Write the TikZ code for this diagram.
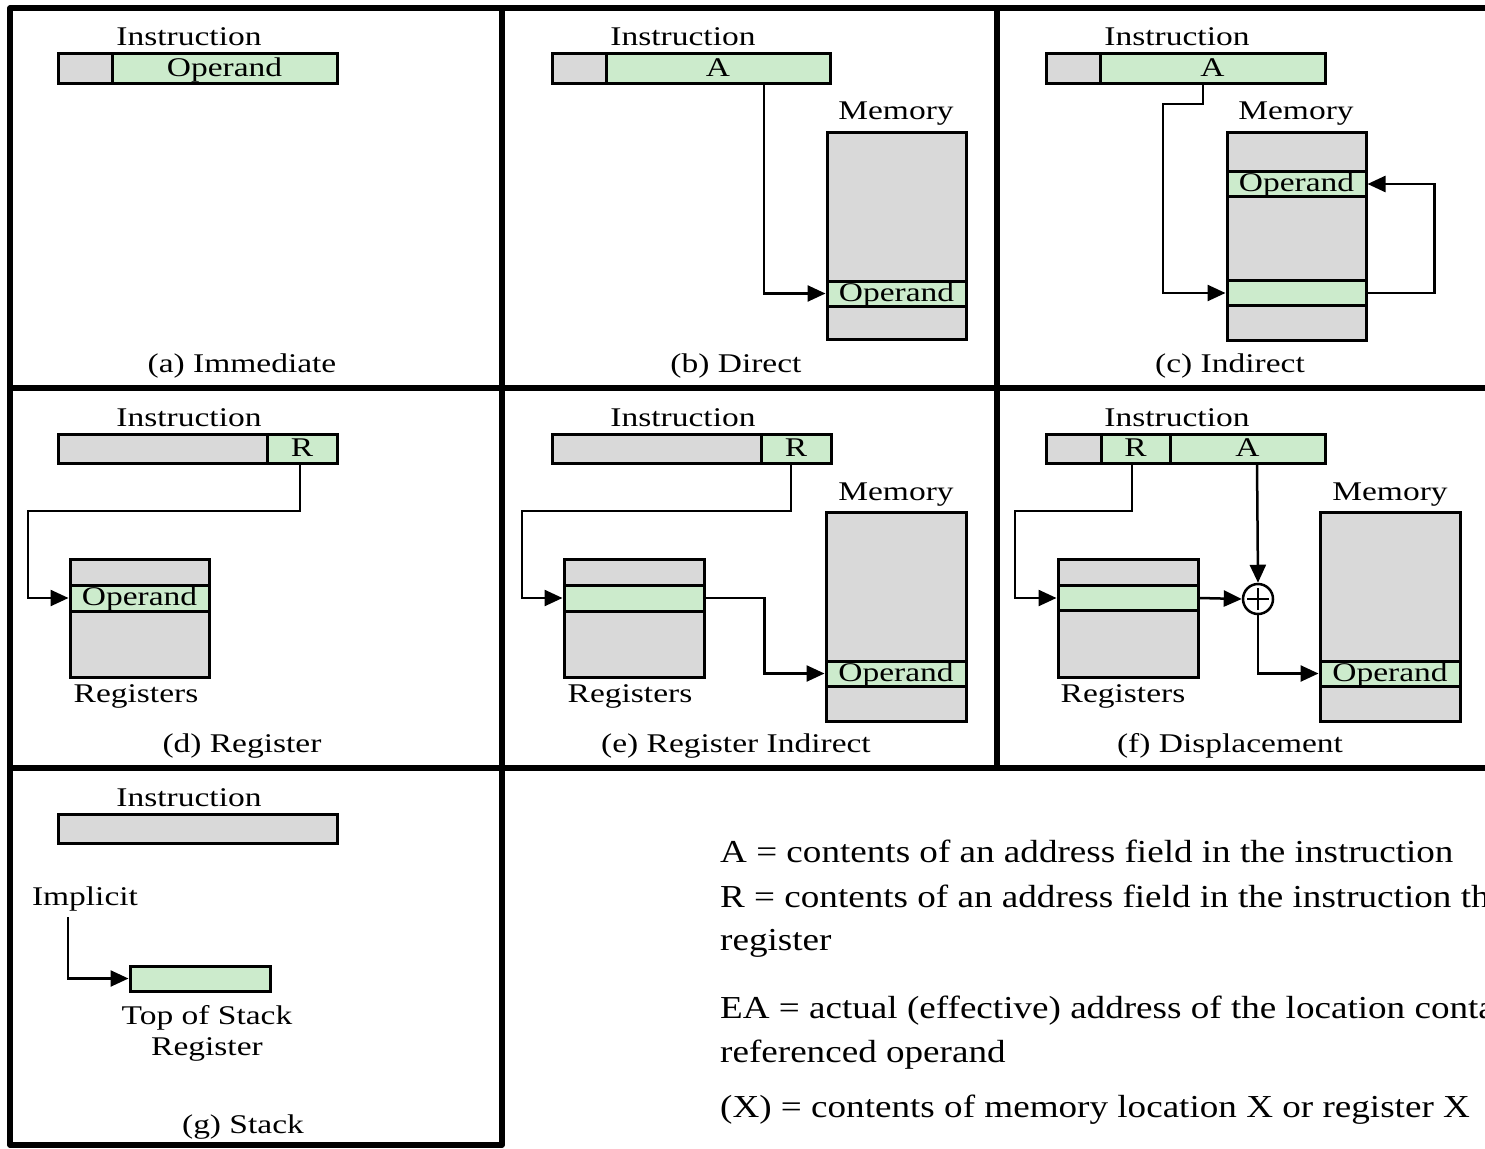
\documentclass[tikz,border=0pt]{standalone}
\usepackage{fontspec}
\setmainfont{Liberation Serif}
\newfontfamily\lblfont[FakeStretch=1.24]{Liberation Serif}
\newfontfamily\legfont[FakeStretch=1.16]{Liberation Serif}
\usetikzlibrary{arrows.meta}
\definecolor{cellgray}{RGB}{217,217,217}
\definecolor{cellgreen}{RGB}{204,235,204}
\newcommand\lblsize{\lblfont\fontsize{27}{32}\selectfont}
\newcommand\legsize{\legfont\fontsize{32}{38}\selectfont}
% \fld{name}{x1}{y1}{x2}{y2}{style}{text}: a box given by its corners
\newcommand\fld[7]{%
  \node[#6, minimum width={(#4-#2)*1pt}, minimum height={(#5-#3)*1pt}]
    (#1) at ({(#2+#4)/2},{(#3+#5)/2}) {#7};}
\tikzset{
  gbox/.style={draw, line width=3pt, fill=cellgray, inner sep=0pt,
    text height=20pt, text depth=5pt, font=\lblsize},
  grbox/.style={gbox, fill=cellgreen},
  lbl/.style={inner sep=0pt, anchor=base, font=\lblsize},
  legend/.style={inner sep=0pt, anchor=base west, font=\legsize},
  wire/.style={line width=2.5pt},
  arr/.style={line width=2.5pt, -{Triangle[length=18pt,width=16pt]}},
  frame/.style={line width=5.5pt, line join=round}
}
\begin{document}
\begin{tikzpicture}[x=1pt, y=-1pt]
\useasboundingbox (0,0) rectangle (1485,1148);
\fill[white] (0,0) rectangle (1485,1148);

% panel frame
\draw[frame] (1495,8) -- (10,8) -- (10,1145) -- (502,1145) -- (502,8);
\draw[frame] (10,388) -- (1495,388);
\draw[frame] (10,768) -- (1495,768);
\draw[frame] (997,8) -- (997,768);

% ---------- (a) Immediate ----------
\node[lbl] (aI) at (189,46) {Instruction};
\fld{aop}{58}{54}{112}{83}{gbox}{}
\fld{aval}{112}{54}{337}{83}{grbox}{Operand}
\node[lbl] (acap) at (242,372) {(a) Immediate};

% ---------- (b) Direct ----------
\node[lbl] (bI) at (683,46) {Instruction};
\fld{bop}{552}{54}{606}{83}{gbox}{}
\fld{bA}{606}{54}{830}{83}{grbox}{A}
\node[lbl] (bM) at (896,119) {Memory};
\fld{bmem}{827}{132}{966}{339}{gbox}{}
\fld{bval}{827}{281}{966}{306}{grbox}{Operand}
\coordinate (bAout) at (764,83);
\draw[arr] (bAout) |- (bval.west);
\node[lbl] (bcap) at (736,372) {(b) Direct};

% ---------- (c) Indirect ----------
\node[lbl] (cI) at (1177,46) {Instruction};
\fld{cop}{1046}{54}{1100}{83}{gbox}{}
\fld{cA}{1100}{54}{1325}{83}{grbox}{A}
\node[lbl] (cM) at (1296,119) {Memory};
\fld{cmem}{1227}{132}{1366}{340}{gbox}{}
\fld{cval}{1227}{172}{1366}{196}{grbox}{Operand}
\fld{cptr}{1227}{281}{1366}{305}{grbox}{}
\coordinate (cAout) at (1203,83);
\draw[arr] (cAout) |- (1163,104) |- (cptr.west);
\draw[arr] (cptr.east) -- ++(67,0) |- (cval.east);
\node[lbl] (ccap) at (1230,372) {(c) Indirect};

% ---------- (d) Register ----------
\node[lbl] (dI) at (189,426) {Instruction};
\fld{dop}{58}{434}{267}{463}{gbox}{}
\fld{dR}{267}{434}{337}{463}{grbox}{R}
\fld{dreg}{70}{559}{209}{677}{gbox}{}
\fld{dval}{70}{585}{209}{611}{grbox}{Operand}
\node[lbl] (dRg) at (136,702) {Registers};
\coordinate (dRout) at (300,463);
\draw[arr] (dRout) |- (28,511) |- (dval.west);
\node[lbl] (dcap) at (242,752) {(d) Register};

% ---------- (e) Register Indirect ----------
\node[lbl] (eI) at (683,426) {Instruction};
\fld{eop}{552}{434}{761}{463}{gbox}{}
\fld{eR}{761}{434}{831}{463}{grbox}{R}
\fld{ereg}{564}{559}{704}{677}{gbox}{}
\fld{eptr}{564}{585}{704}{611}{grbox}{}
\node[lbl] (eRg) at (630,702) {Registers};
\node[lbl] (eM) at (896,500) {Memory};
\fld{emem}{826}{512}{966}{721}{gbox}{}
\fld{eval}{826}{661}{966}{686}{grbox}{Operand}
\coordinate (eRout) at (791,463);
\draw[arr] (eRout) |- (522,511) |- (eptr.west);
\draw[arr] (eptr.east) -- ++(59,0) |- (eval.west);
\node[lbl] (ecap) at (736,752) {(e) Register Indirect};

% ---------- (f) Displacement ----------
\node[lbl] (fI) at (1177,426) {Instruction};
\fld{fop}{1046}{434}{1101}{463}{gbox}{}
\fld{fR}{1101}{434}{1170}{463}{grbox}{R}
\fld{fA}{1170}{434}{1325}{463}{grbox}{A}
\fld{freg}{1058}{559}{1198}{677}{gbox}{}
\fld{fptr}{1058}{586}{1198}{610}{grbox}{}
\node[lbl] (fRg) at (1123,702) {Registers};
\node[lbl] (fM) at (1390,500) {Memory};
\fld{fmem}{1320}{512}{1460}{721}{gbox}{}
\fld{fval}{1320}{661}{1460}{686}{grbox}{Operand}
\node[circle, draw, line width=2.5pt, fill=white, minimum size=30pt,
      inner sep=0pt] (plus) at (1258,599) {};
\draw[line width=2pt] ([xshift=-11pt]plus.center) -- ([xshift=11pt]plus.center)
                      ([yshift=-11pt]plus.center) -- ([yshift=11pt]plus.center);
\coordinate (fRout) at (1132,463);
\coordinate (fAout) at (1257,463);
\draw[arr] (fRout) |- (1015,511) |- (fptr.west);
\draw[arr] (fptr.east) -- (plus.west);
\draw[arr] (fAout) -- (plus.north);
\draw[arr] (plus.south) |- (fval.west);
\node[lbl] (fcap) at (1230,752) {(f) Displacement};

% ---------- (g) Stack ----------
\node[lbl] (gI) at (189,806) {Instruction};
\fld{gbar}{58}{814}{337}{843}{gbox}{}
\node[lbl] (gimp) at (85,905) {Implicit};
\fld{gtos}{130}{967}{270}{990}{grbox}{}
\node[lbl] (gtop) at (207,1024) {Top of Stack};
\node[lbl] (greg) at (207,1055) {Register};
\coordinate (gimpout) at (68,917);
\draw[arr] (gimpout) |- (gtos.west);
\node[lbl] (gcap) at (243,1133) {(g) Stack};

% ---------- legend ----------
\node[legend] (lA)  at (720,862)  {A = contents of an address field in the instruction};
\node[legend] (lR)  at (720,907)  {R = contents of an address field in the instruction th};
\node[legend] (lR2) at (720,950)  {register};
\node[legend] (lEA) at (720,1018) {EA = actual (effective) address of the location conta};
\node[legend] (lE2) at (720,1062) {referenced operand};
\node[legend] (lX)  at (720,1117) {(X) = contents of memory location X or register X};
\end{tikzpicture}
\end{document}
